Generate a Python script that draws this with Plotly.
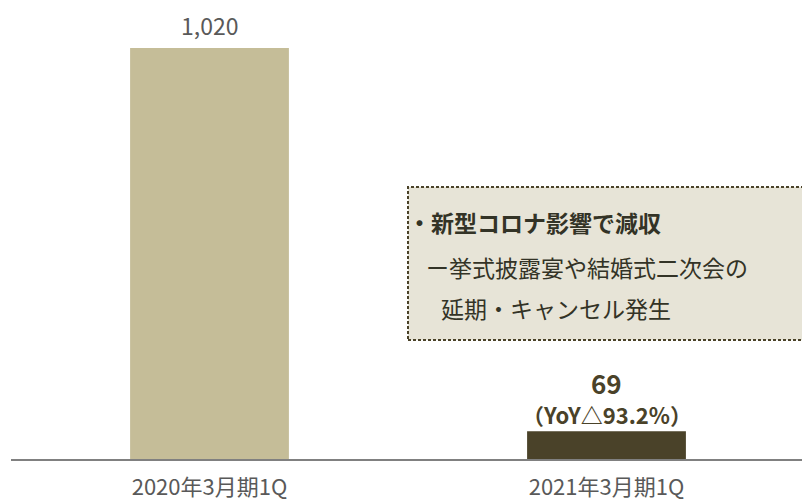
import plotly.graph_objects as go

categories = ["2020年3月期1Q", "2021年3月期1Q"]
values = [1020, 69]
value_labels = ["1,020", "69"]
yoy_label = "（YoY△93.2%）"
bar_colors = ["#c5bd98", "#4a4229"]
note_lines = ["・新型コロナ影響で減収", "ー挙式披露宴や結婚式二次会の", "延期・キャンセル発生"]

FONT = "Noto Sans CJK JP"
W, H = 810, 500
OFF = 8  # page body margin
# desired screen plot area: x 11..805, y 10..459
ml = 11 - OFF
mt = 10 - OFF
mr = W - (805 - OFF)
mb = H - (459 - OFF)
pw, ph = W - ml - mr, H - mt - mb

def px(x):
    return (x - OFF - ml) / pw

def py(y):
    return (H - mb - (y - OFF)) / ph

fig = go.Figure()
fig.add_trace(go.Bar(
    x=categories, y=values, marker=dict(color=bar_colors, line=dict(width=0)),
    width=0.4, hoverinfo="skip"))

annotations = []
annotations.append(dict(x=categories[0], y=values[0], xref="x", yref="y",
                        text=value_labels[0], showarrow=False, yshift=23,
                        font=dict(family=FONT, size=23, color="#595959")))
annotations.append(dict(x=categories[1], y=values[1], xref="x", yref="y",
                        text="<b>" + value_labels[1] + "</b>", showarrow=False, yshift=49,
                        font=dict(family=FONT, size=26, color="#4a4229")))
annotations.append(dict(x=categories[1], y=values[1], xref="x", yref="y",
                        text="<b>" + yoy_label + "</b>", showarrow=False, yshift=17,
                        font=dict(family=FONT, size=22, color="#4a4229")))

note_pos = [(407, 222), (425, 267), (440, 308)]
for i, (line, (x, y)) in enumerate(zip(note_lines, note_pos)):
    txt = "<b>" + line + "</b>" if i == 0 else line
    annotations.append(dict(x=px(x), y=py(y), xref="paper", yref="paper",
                            xanchor="left", yanchor="middle", text=txt,
                            showarrow=False, borderpad=0,
                            font=dict(family=FONT, size=23, color="#333326")))

fig.update_layout(
    width=W, height=H,
    margin=dict(l=ml, r=mr, t=mt, b=mb),
    paper_bgcolor="white", plot_bgcolor="white",
    showlegend=False,
    annotations=annotations,
    shapes=[dict(type="rect", xref="paper", yref="paper",
                 x0=px(408), x1=px(812), y0=py(340), y1=py(187),
                 fillcolor="#e7e4d7", line=dict(color="#4a4229", width=2, dash="3px,2px"),
                 layer="below")],
    xaxis=dict(range=[-0.5, 1.5], showgrid=False, zeroline=False,
               showline=True, linecolor="#808080", linewidth=2,
               ticks="", ticklabelstandoff=8,
               tickfont=dict(family=FONT, size=22, color="#595959")),
    yaxis=dict(range=[0, 1114], visible=False, showgrid=False, zeroline=False),
)
fig.write_html("out.html")
